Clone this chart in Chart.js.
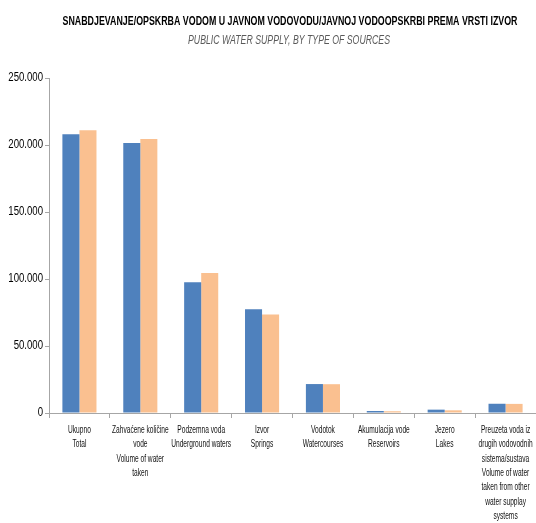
<!DOCTYPE html>
<html>
<head>
<meta charset="utf-8">
<script src="https://cdn.jsdelivr.net/npm/chart.js@4.4.0/dist/chart.umd.min.js"></script>
<style>
  html, body { margin: 0; padding: 0; background: #ffffff; }
  #wrap { width: 536px; height: 523px; }
</style>
</head>
<body>
<div id="wrap"><canvas id="waterbar"></canvas></div>
<script>
// Categories - each one an array of lines
var categories = [
    ["Ukupno", "Total"],
    ["Zahvaćene količine", "vode", "Volume of water", "taken"],
    ["Podzemna voda", "Underground waters"],
    ["Izvor", "Springs"],
    ["Vodotok", "Watercourses"],
    ["Akumulacija vode", "Reservoirs"],
    ["Jezero", "Lakes"],
    ["Preuzeta voda iz", "drugih vodovodnih", "sistema/sustava", "Volume of water", "taken from other", "water supplay", "systems"]
];

// two series, blue first then orange
var blueValues = [208000, 201500, 97500, 77500, 21600, 1500, 2500, 6900];
var orangeValues = [211000, 204500, 104500, 73500, 21500, 1300, 2000, 6800];

var yTicks = [0, 50000, 100000, 150000, 200000, 250000];

var titleText = 'SNABDJEVANJE/OPSKRBA VODOM U JAVNOM VODOVODU/JAVNOJ VODOOPSKRBI PREMA VRSTI IZVOR';
var subtitleText = 'PUBLIC WATER SUPPLY, BY TYPE OF SOURCES';

var fam = "'Liberation Sans', Arial, sans-serif";

const waterbar = document.getElementById("waterbar");

function fmt(v) {
    // 250000 -> 250.000
    return v.toString().replace(/\B(?=(\d{3})+(?!\d))/g, ".");
}

// the original text is narrow, so squeeze it sideways
function squished(ctx, text, x, y, sx, align) {
    ctx.save();
    ctx.translate(x, y);
    ctx.scale(sx, 1);
    ctx.textAlign = align || 'center';
    ctx.fillText(text, 0, 0);
    ctx.restore();
}

var textPlugin = {
    id: 'texts',
    afterDraw: function(chart) {
        var ctx = chart.ctx;
        var xs = chart.scales.x;
        var ys = chart.scales.y;
        ctx.save();
        ctx.textBaseline = 'middle';

        // titles
        ctx.fillStyle = '#000000';
        ctx.font = 'bold 13px ' + fam;
        squished(ctx, titleText, 290, 21, 455 / ctx.measureText(titleText).width);
        ctx.fillStyle = '#595959';
        ctx.font = 'italic 12px ' + fam;
        squished(ctx, subtitleText, 289, 41, 202 / ctx.measureText(subtitleText).width);

        // y labels
        ctx.fillStyle = '#000000';
        ctx.font = '12px ' + fam;
        yTicks.forEach(function(v) {
            squished(ctx, fmt(v), 43, ys.getPixelForValue(v), 0.8, 'right');
        });

        // x labels
        ctx.fillStyle = '#111111';
        ctx.font = '10.5px ' + fam;
        categories.forEach(function(lines, i) {
            var cx = xs.getPixelForValue(i);
            lines.forEach(function(line, j) {
                squished(ctx, line, cx, xs.top + 17 + j * 14.4, 0.63);
            });
        });
        ctx.restore();
    }
};

var waterdata = {
    labels: categories,
    datasets: [{
        data: blueValues,
        backgroundColor: '#4f81bd',
        borderWidth: 0,
    }, {
        data: orangeValues,
        backgroundColor: '#fac090',
        borderWidth: 0,
    }],
};

new Chart(waterbar, {
    type: 'bar',
    data: waterdata,
    plugins: [textPlugin],
    options: {
        responsive: true,
        maintainAspectRatio: false,
        animation: false,
        datasets: {
            bar: {
                categoryPercentage: 0.56,
                barPercentage: 1.0,
            }
        },
        layout: {
            padding: { left: 0, right: 0, top: 78, bottom: 0 }
        },
        plugins: {
            legend: { display: false },
            tooltip: { enabled: false },
            title: { display: false },
        },
        scales: {
            x: {
                afterFit: function(axis) { axis.height = 110; },
                grid: {
                    display: true,
                    drawOnChartArea: false,
                    offset: true,
                    tickLength: 5,
                    color: '#a6a6a6',
                },
                border: { color: '#a6a6a6', width: 1 },
                ticks: { display: false },
            },
            y: {
                min: 0,
                max: 250000,
                afterBuildTicks: function(axis) {
                    axis.ticks = yTicks.map(function(v) { return { value: v }; });
                },
                afterFit: function(axis) { axis.width = 49; },
                grid: {
                    display: true,
                    drawOnChartArea: false,
                    tickLength: 4,
                    color: '#a6a6a6',
                },
                border: { color: '#a6a6a6', width: 1 },
                ticks: { display: false },
            },
        },
    },
});
</script>
</body>
</html>
